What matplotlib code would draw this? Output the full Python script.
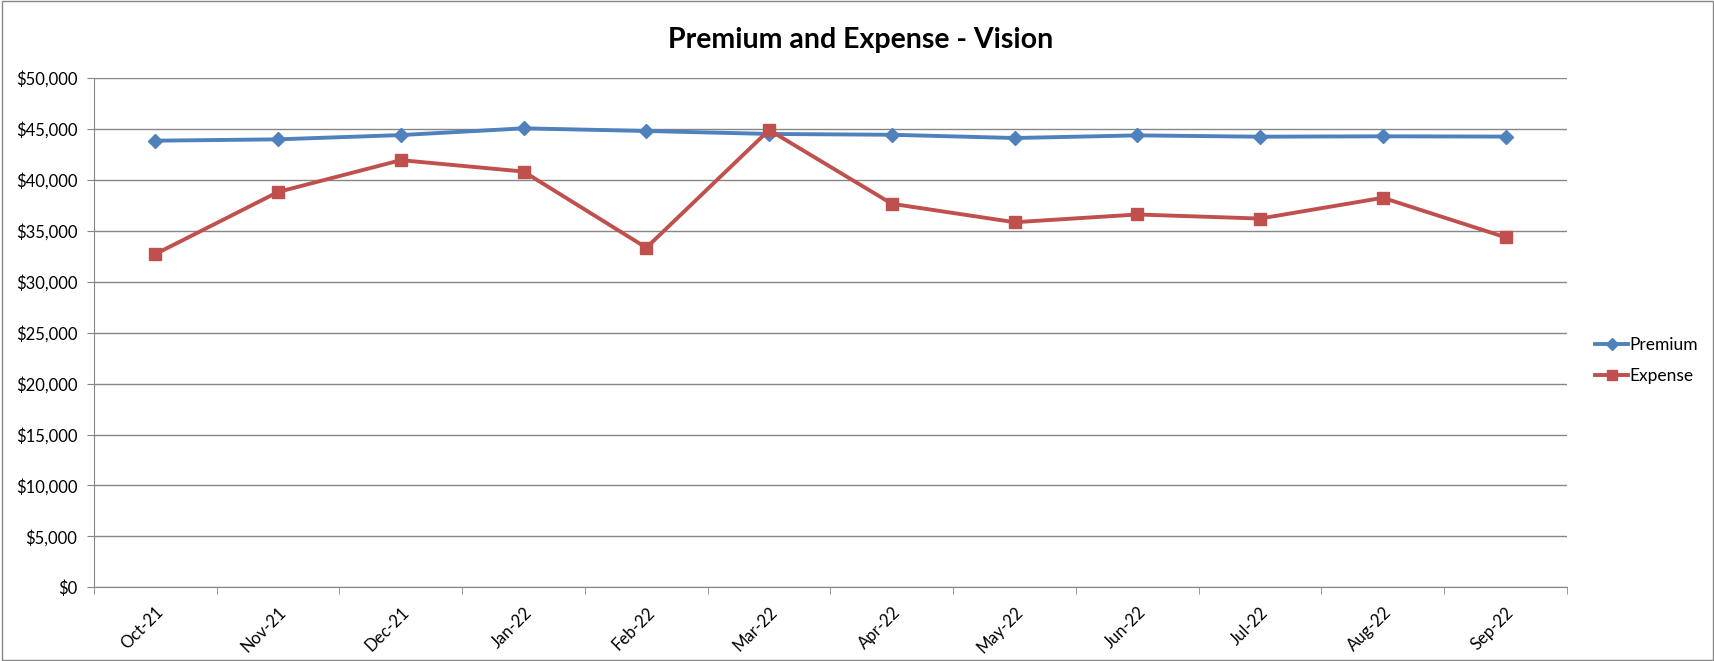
import matplotlib
matplotlib.use('Agg')
import matplotlib.pyplot as plt
from matplotlib.ticker import FuncFormatter
from matplotlib.patches import Rectangle

months = ['Oct-21', 'Nov-21', 'Dec-21', 'Jan-22', 'Feb-22', 'Mar-22',
          'Apr-22', 'May-22', 'Jun-22', 'Jul-22', 'Aug-22', 'Sep-22']
premium = [43820, 43950, 44370, 45030, 44770, 44480,
           44400, 44080, 44340, 44210, 44250, 44220]
expense = [32700, 38790, 41910, 40790, 33320, 44870,
           37630, 35820, 36580, 36180, 38220, 34340]

plt.rcParams['font.family'] = ['Lato', 'DejaVu Sans']

fig = plt.figure(figsize=(17.15, 6.61), dpi=100)
ax = fig.add_axes([0.0548, 0.1113, 0.8589, 0.7712])

x = list(range(len(months)))
ax.plot(x, premium, color='#4F81BD', lw=2.8, marker='D', ms=7,
        label='Premium', zorder=3)
ax.plot(x, expense, color='#C0504D', lw=2.8, marker='s', ms=8.5,
        label='Expense', zorder=4)

ax.set_xlim(-0.5, len(months) - 0.5)
ax.set_ylim(0, 50000)
ax.set_yticks(range(0, 50001, 5000))
ax.yaxis.set_major_formatter(FuncFormatter(lambda v, p: f'${v:,.0f}'))
ax.grid(axis='y', color='#868686', lw=1)
ax.set_axisbelow(True)

ax.set_xticks(x)
ax.set_xticklabels(months, rotation=45, ha='right', rotation_mode='anchor')
ax.set_xticks([i - 0.5 for i in range(len(months) + 1)], minor=True)
ax.tick_params(axis='x', which='major', length=0, pad=12, labelsize=12)
ax.tick_params(axis='x', which='minor', length=5, color='#868686')
ax.tick_params(axis='y', length=5, color='#868686', labelsize=12, pad=7)

for s in ['top', 'right']:
    ax.spines[s].set_visible(False)
for s in ['left', 'bottom']:
    ax.spines[s].set_color('#868686')

fig.text(0.502, 0.94, 'Premium and Expense - Vision', ha='center',
         va='center', fontsize=20.5, fontweight='bold')

fig.legend(loc='center left', bbox_to_anchor=(0.921, 0.455), frameon=False,
           fontsize=12.5, handlelength=1.9, handletextpad=0.1,
           labelspacing=0.85, markerscale=0.85)

fig.patches.append(Rectangle((0.001, 0.001), 0.998, 0.998,
                             transform=fig.transFigure, fill=False,
                             edgecolor='#888888', lw=1))

fig.savefig('out.png', dpi=100)
